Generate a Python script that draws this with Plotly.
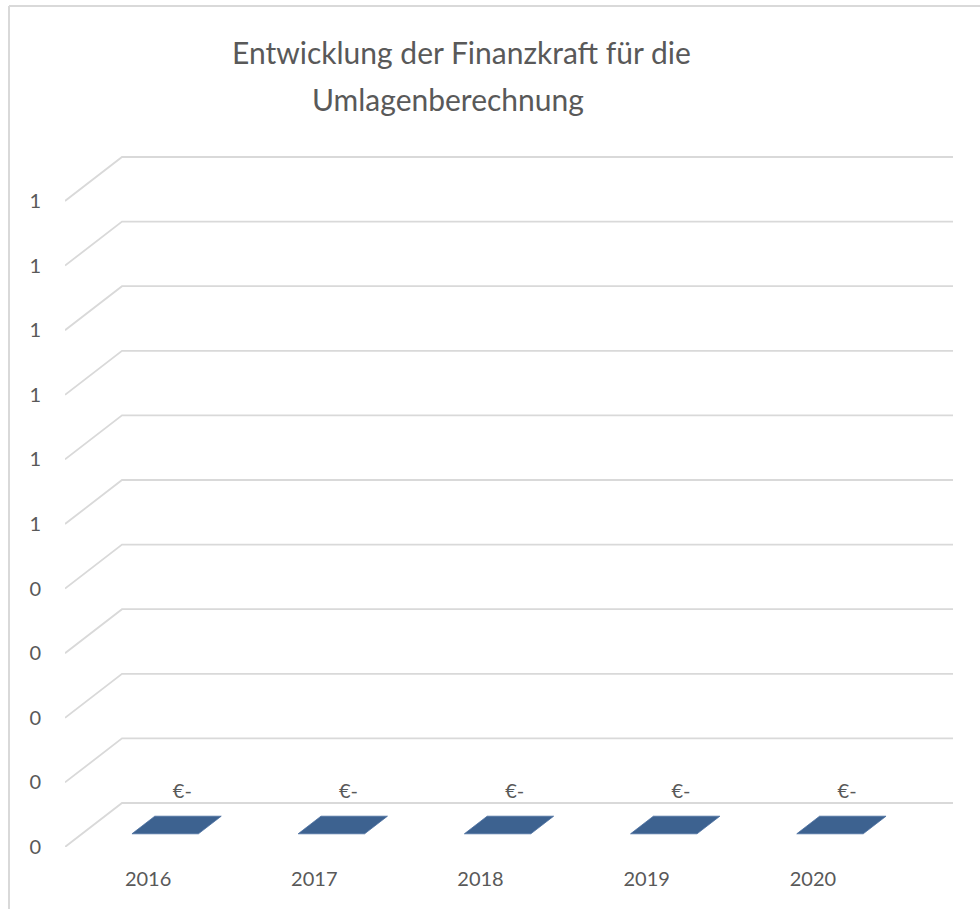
import plotly.graph_objects as go

# ---- data ----
years = ["2016", "2017", "2018", "2019", "2020"]
values = [0, 0, 0, 0, 0]
value_labels = ["€-", "€-", "€-", "€-", "€-"]
y_tick_vals = [0.0, 0.1, 0.2, 0.3, 0.4, 0.5, 0.6, 0.7, 0.8, 0.9, 1.0]
y_tick_text = ["0", "0", "0", "0", "0", "1", "1", "1", "1", "1", "1"]
title_lines = ["Entwicklung der Finanzkraft für die", "Umlagenberechnung"]

# ---- layout / projection constants ----
W, H = 980, 909
ML, MR, MB, MT = 65, 10, 62, 70
CAT_PX = 166.2          # pixels per category
VAL_PX = 646.0          # pixels per value unit
DX = 57 / CAT_PX        # depth offset in category units
DY = 44 / VAL_PX        # depth offset in value units
plot_w = W - ML - MR
plot_h = H - MB - MT
x_max = plot_w / CAT_PX
y_max = plot_h / VAL_PX

GRID = "#D9D9D9"
TXT = "#595959"
BAR = "#3D6290"
FONT = "Lato"

fig = go.Figure()

# back wall gridlines and diagonal side-wall lines
n_cat = len(years)
gx, gy = [], []
for v in y_tick_vals:
    gx += [0, DX, n_cat + DX, None]
    gy += [v, v + DY, v + DY, None]
fig.add_trace(go.Scatter(x=gx, y=gy, mode="lines",
                         line=dict(color=GRID, width=1.8),
                         hoverinfo="skip", showlegend=False))

# bars (zero height -> flat top face parallelogram)
bw0, bw1 = 0.3, 0.7   # bar width within category
d0, d1 = 0.3, 0.7     # bar depth within series depth
for i, v in enumerate(values):
    px = [i + bw0 + d0 * DX, i + bw1 + d0 * DX, i + bw1 + d1 * DX, i + bw0 + d1 * DX, i + bw0 + d0 * DX]
    py = [v + d0 * DY, v + d0 * DY, v + d1 * DY, v + d1 * DY, v + d0 * DY]
    fig.add_trace(go.Scatter(x=px, y=py, mode="lines", fill="toself",
                             fillcolor=BAR, line=dict(color="#4A6FA0", width=0.8),
                             hoverinfo="skip", showlegend=False))

# data labels
fig.add_trace(go.Scatter(
    x=[i + 0.5 + 0.6 * DX for i in range(n_cat)],
    y=[v + DY for v in values],
    mode="text", text=value_labels, textposition="top center",
    textfont=dict(family=FONT, size=20, color=TXT),
    hoverinfo="skip", showlegend=False, cliponaxis=False))

# frame (top and left border of chart area)
def px2paper_x(p):
    return (p - ML) / plot_w

def py2paper_y(p):
    return (H - MB - p) / plot_h

shapes = [
    dict(type="line", xref="paper", yref="paper",
         x0=px2paper_x(9), x1=px2paper_x(W + 5), y0=py2paper_y(6), y1=py2paper_y(6),
         line=dict(color=GRID, width=2)),
    dict(type="line", xref="paper", yref="paper",
         x0=px2paper_x(9), x1=px2paper_x(9), y0=py2paper_y(6), y1=py2paper_y(H + 5),
         line=dict(color=GRID, width=2)),
]

annotations = [
    dict(text=title_lines[0], xref="paper", yref="paper",
         x=px2paper_x(461), y=py2paper_y(52), xanchor="center", yanchor="middle",
         showarrow=False, font=dict(family=FONT, size=30, color=TXT)),
    dict(text=title_lines[1], xref="paper", yref="paper",
         x=px2paper_x(448), y=py2paper_y(99), xanchor="center", yanchor="middle",
         showarrow=False, font=dict(family=FONT, size=30, color=TXT)),
]

fig.update_layout(
    width=W, height=H,
    margin=dict(l=ML, r=MR, t=MT, b=MB, pad=0),
    paper_bgcolor="white", plot_bgcolor="white",
    shapes=shapes, annotations=annotations,
    xaxis=dict(range=[0, x_max], showgrid=False, zeroline=False, showline=False,
               tickmode="array", tickvals=[i + 0.5 for i in range(n_cat)], ticktext=years,
               ticks="outside", ticklen=14, tickcolor="rgba(0,0,0,0)",
               tickfont=dict(family=FONT, size=20, color=TXT), fixedrange=True),
    yaxis=dict(range=[0, y_max], showgrid=False, zeroline=False, showline=False,
               tickmode="array", tickvals=y_tick_vals, ticktext=y_tick_text,
               ticks="outside", ticklen=19, tickcolor="rgba(0,0,0,0)",
               tickfont=dict(family=FONT, size=20, color=TXT), fixedrange=True),
    showlegend=False,
)

fig.write_html("out.html", config={"displayModeBar": False},
               post_script="document.body.style.margin='0';document.body.style.overflow='hidden';")
